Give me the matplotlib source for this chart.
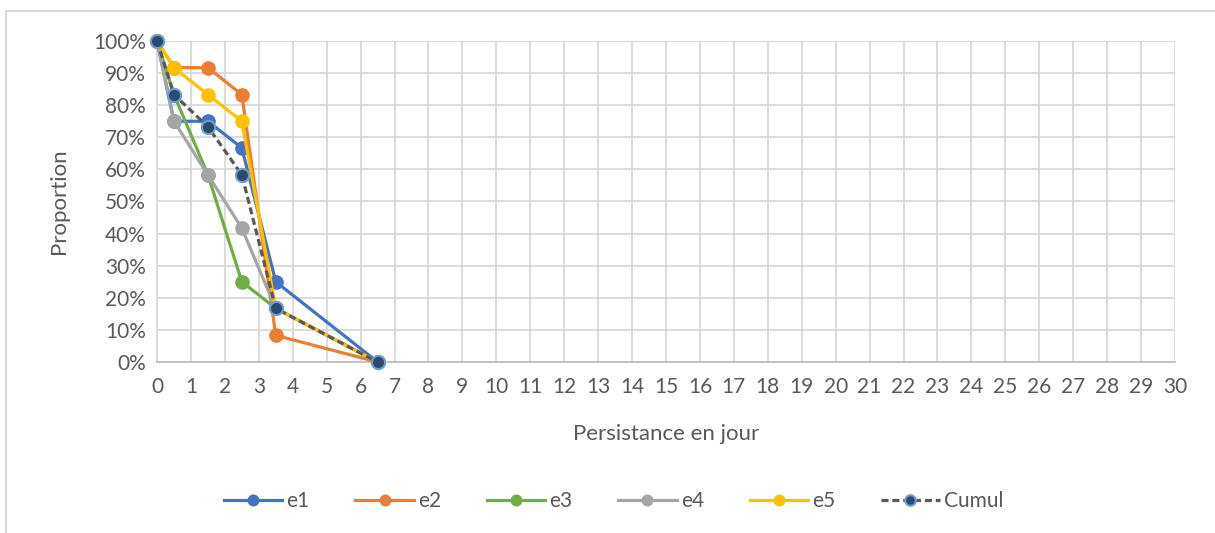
import matplotlib
matplotlib.use("Agg")
import matplotlib.pyplot as plt
from matplotlib.ticker import PercentFormatter, MultipleLocator
from matplotlib.patches import Rectangle

plt.rcParams['font.family'] = ['Lato', 'DejaVu Sans']

# Persistence (days) and survival proportion for each series
days = [0, 0.5, 1.5, 2.5, 3.5, 6.5]
e1 = [1.0, 0.75, 0.75, 0.667, 0.25, 0.0]
e2 = [1.0, 0.917, 0.917, 0.833, 0.083, 0.0]
e3 = [1.0, 0.833, 0.583, 0.25, 0.167, 0.0]
e4 = [1.0, 0.75, 0.583, 0.417, 0.167, 0.0]
e5 = [1.0, 0.917, 0.833, 0.75, 0.167, 0.0]
cumul = [1.0, 0.833, 0.733, 0.583, 0.167, 0.0]

series_names = ["e1", "e2", "e3", "e4", "e5"]
series_colors = ["#4472C4", "#ED7D31", "#70AD47", "#A5A5A5", "#FFC000"]
x_ticks = list(range(0, 31))

text_color = "#595959"
grid_color = "#D9D9D9"

fig = plt.figure(figsize=(12.15, 5.33), dpi=100)
ax = fig.add_axes([157 / 1215, 1 - 362 / 533, (1175 - 157) / 1215, (362 - 41) / 533])

# chart frame
fig.patches.append(Rectangle((6 / 1215, -0.1), 1.2, 1 - 11 / 533 + 0.1,
                             transform=fig.transFigure, fill=False,
                             edgecolor="#D9D9D9", linewidth=1.5, zorder=0))

for name, vals, col in zip(series_names, [e1, e2, e3, e4, e5], series_colors):
    ax.plot(days, vals, color=col, linewidth=2.3, marker="o", markersize=9.5,
            markerfacecolor=col, markeredgecolor=col, label=name, clip_on=False, zorder=3)

ax.plot(days, cumul, color="#595959", linewidth=2.3, linestyle=(0, (2.2, 1.2)),
        marker="o", markersize=9.5, markerfacecolor="#2B4A6E",
        markeredgecolor="#6C9FD0", markeredgewidth=1.5, label="Cumul",
        clip_on=False, zorder=4)

ax.set_xlim(0, 30)
ax.set_ylim(0, 1)
ax.set_xticks(x_ticks)
ax.yaxis.set_major_locator(MultipleLocator(0.1))
ax.yaxis.set_major_formatter(PercentFormatter(1.0, decimals=0))

ax.grid(True, color=grid_color, linewidth=1.3)
ax.set_axisbelow(True)
for side in ["top", "right"]:
    ax.spines[side].set_visible(False)
ax.spines["left"].set_color(grid_color)
ax.spines["left"].set_linewidth(1.3)
ax.spines["bottom"].set_color("#BFBFBF")
ax.spines["bottom"].set_linewidth(1.3)
ax.tick_params(axis="x", length=0, labelsize=15, labelcolor=text_color, pad=11)
ax.tick_params(axis="y", length=0, labelsize=15, labelcolor=text_color, pad=8)

ax.set_xlabel("Persistance en jour", fontsize=16, color=text_color, labelpad=19)
ax.set_ylabel("Proportion", fontsize=16, color=text_color, labelpad=17)

fig.legend(loc="center", bbox_to_anchor=(0.505, 1 - 501 / 533), ncol=6,
           frameon=False, fontsize=15, labelcolor=text_color, markerscale=0.8,
           handlelength=2.8, handletextpad=0.2, columnspacing=2.2)

fig.savefig("out.png", dpi=100, facecolor="white")
